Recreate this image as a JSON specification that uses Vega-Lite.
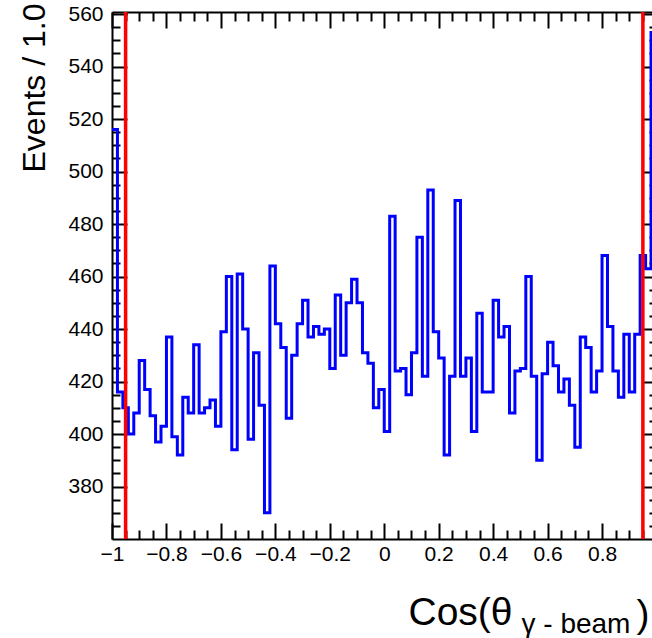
{
  "$schema": "https://vega.github.io/schema/vega-lite/v6.json",
  "autosize": "none",
  "padding": {"left": 112, "top": 12, "right": 0, "bottom": 99},
  "width": 540,
  "height": 527,
  "background": "white",
  "config": {
    "view": {"stroke": null},
    "axis": {"grid": false, "domainColor": "black", "tickColor": "black", "labelColor": "black", "titleColor": "black", "labelFont": "Liberation Sans", "titleFont": "Liberation Sans", "labelFontSize": 20, "titleFontWeight": "normal", "labelFlush": false, "labelOverlap": false}
  },
  "data": {"values": [
    {"x": -1.00, "n": 516}, {"x": -0.98, "n": 416}, {"x": -0.96, "n": 410}, {"x": -0.94, "n": 400}, {"x": -0.92, "n": 408},
    {"x": -0.90, "n": 428}, {"x": -0.88, "n": 417}, {"x": -0.86, "n": 407}, {"x": -0.84, "n": 397}, {"x": -0.82, "n": 403},
    {"x": -0.80, "n": 437}, {"x": -0.78, "n": 399}, {"x": -0.76, "n": 392}, {"x": -0.74, "n": 414}, {"x": -0.72, "n": 408},
    {"x": -0.70, "n": 434}, {"x": -0.68, "n": 408}, {"x": -0.66, "n": 410}, {"x": -0.64, "n": 413}, {"x": -0.62, "n": 403},
    {"x": -0.60, "n": 439}, {"x": -0.58, "n": 460}, {"x": -0.56, "n": 394}, {"x": -0.54, "n": 461}, {"x": -0.52, "n": 440},
    {"x": -0.50, "n": 398}, {"x": -0.48, "n": 431}, {"x": -0.46, "n": 411}, {"x": -0.44, "n": 370}, {"x": -0.42, "n": 464},
    {"x": -0.40, "n": 442}, {"x": -0.38, "n": 433}, {"x": -0.36, "n": 406}, {"x": -0.34, "n": 430}, {"x": -0.32, "n": 442},
    {"x": -0.30, "n": 451}, {"x": -0.28, "n": 437}, {"x": -0.26, "n": 441}, {"x": -0.24, "n": 438}, {"x": -0.22, "n": 440},
    {"x": -0.20, "n": 425}, {"x": -0.18, "n": 453}, {"x": -0.16, "n": 430}, {"x": -0.14, "n": 450}, {"x": -0.12, "n": 459},
    {"x": -0.10, "n": 450}, {"x": -0.08, "n": 431}, {"x": -0.06, "n": 427}, {"x": -0.04, "n": 410}, {"x": -0.02, "n": 417},
    {"x": 0.00, "n": 401}, {"x": 0.02, "n": 483}, {"x": 0.04, "n": 424}, {"x": 0.06, "n": 425}, {"x": 0.08, "n": 415},
    {"x": 0.10, "n": 431}, {"x": 0.12, "n": 475}, {"x": 0.14, "n": 422}, {"x": 0.16, "n": 493}, {"x": 0.18, "n": 439},
    {"x": 0.20, "n": 429}, {"x": 0.22, "n": 392}, {"x": 0.24, "n": 422}, {"x": 0.26, "n": 489}, {"x": 0.28, "n": 422},
    {"x": 0.30, "n": 429}, {"x": 0.32, "n": 401}, {"x": 0.34, "n": 446}, {"x": 0.36, "n": 416}, {"x": 0.38, "n": 416},
    {"x": 0.40, "n": 451}, {"x": 0.42, "n": 437}, {"x": 0.44, "n": 441}, {"x": 0.46, "n": 408}, {"x": 0.48, "n": 424},
    {"x": 0.50, "n": 425}, {"x": 0.52, "n": 460}, {"x": 0.54, "n": 422}, {"x": 0.56, "n": 390}, {"x": 0.58, "n": 423},
    {"x": 0.60, "n": 435}, {"x": 0.62, "n": 426}, {"x": 0.64, "n": 416}, {"x": 0.66, "n": 421}, {"x": 0.68, "n": 411},
    {"x": 0.70, "n": 395}, {"x": 0.72, "n": 437}, {"x": 0.74, "n": 433}, {"x": 0.76, "n": 416}, {"x": 0.78, "n": 424},
    {"x": 0.80, "n": 468}, {"x": 0.82, "n": 441}, {"x": 0.84, "n": 424}, {"x": 0.86, "n": 414}, {"x": 0.88, "n": 438},
    {"x": 0.90, "n": 416}, {"x": 0.92, "n": 438}, {"x": 0.94, "n": 468}, {"x": 0.96, "n": 463}, {"x": 0.98, "n": 553},
    {"x": 1.00, "n": 553}
  ]},
  "resolve": {"axis": {"x": "independent", "y": "independent"}},
  "layer": [
    {
      "mark": {"type": "line", "interpolate": "step-after", "color": "#0000ff", "strokeWidth": 3, "clip": true},
      "encoding": {
        "x": {"field": "x", "type": "quantitative", "scale": {"domain": [-1, 0.9835], "nice": false, "zero": false},
          "axis": {"orient": "bottom", "values": [-1, -0.8, -0.6, -0.4, -0.2, 0, 0.2, 0.4, 0.6, 0.8], "format": "~g", "tickSize": -16, "tickWidth": 2, "domain": true, "domainWidth": 2, "labelPadding": 20, "labelDx": -8, "labelAlign": "center", "labelBaseline": "top", "labelFontSize": 21,
            "title": "Cos(θ", "titleX": 296, "titleY": 85, "titleAlign": "left", "titleBaseline": "alphabetic", "titleFontSize": 39, "titleAnchor": null}},
        "y": {"field": "n", "type": "quantitative", "scale": {"domain": [360, 560.8], "nice": false, "zero": false},
          "axis": {"orient": "left", "values": [380, 400, 420, 440, 460, 480, 500, 520, 540, 560], "format": "d", "tickSize": -15, "tickWidth": 2, "domain": true, "domainWidth": 2, "labelPadding": 24, "labelBaseline": "middle", "labelFontSize": 21,
            "title": "Events / 1.0", "titleX": -68, "titleY": -9, "titleAngle": -90, "titleAlign": "right", "titleBaseline": "alphabetic", "titleFont": "Liberation Sans", "titleFontSize": 32, "titleAnchor": null}}
      }
    },
    {
      "mark": {"type": "line", "opacity": 0},
      "encoding": {
        "x": {"field": "x", "type": "quantitative",
          "axis": {"orient": "bottom", "values": [-0.95, -0.9, -0.85, -0.75, -0.7, -0.65, -0.55, -0.5, -0.45, -0.35, -0.3, -0.25, -0.15, -0.1, -0.05, 0.05, 0.1, 0.15, 0.25, 0.3, 0.35, 0.45, 0.5, 0.55, 0.65, 0.7, 0.75, 0.85, 0.9, 0.95], "labels": false, "tickSize": -9, "tickWidth": 2, "domain": false,
            "title": ")", "titleX": 524, "titleY": 87, "titleAlign": "left", "titleBaseline": "alphabetic", "titleFontSize": 39, "titleAnchor": null}},
        "y": {"field": "n", "type": "quantitative",
          "axis": {"orient": "left", "values": [365, 370, 375, 385, 390, 395, 405, 410, 415, 425, 430, 435, 445, 450, 455, 465, 470, 475, 485, 490, 495, 505, 510, 515, 525, 530, 535, 545, 550, 555], "labels": false, "tickSize": -8, "tickWidth": 2, "domain": false, "title": null}}
      }
    },
    {
      "mark": {"type": "line", "opacity": 0},
      "encoding": {
        "x": {"field": "x", "type": "quantitative",
          "axis": {"orient": "top", "values": [-1, -0.8, -0.6, -0.4, -0.2, 0, 0.2, 0.4, 0.6, 0.8], "labels": false, "tickSize": -16, "tickWidth": 2, "domain": true, "domainWidth": 2,
            "title": "γ - beam", "titleX": 409, "titleY": 620, "titleAlign": "left", "titleBaseline": "alphabetic", "titleFontSize": 28, "titleAngle": 0, "titleAnchor": null}},
        "y": {"field": "n", "type": "quantitative",
          "axis": {"orient": "right", "offset": 5, "values": [380, 400, 420, 440, 460, 480, 500, 520, 540, 560], "labels": false, "tickSize": -15, "tickWidth": 2, "domain": false, "title": null}}
      }
    },
    {
      "mark": {"type": "line", "opacity": 0},
      "encoding": {
        "x": {"field": "x", "type": "quantitative",
          "axis": {"orient": "top", "values": [-0.95, -0.9, -0.85, -0.75, -0.7, -0.65, -0.55, -0.5, -0.45, -0.35, -0.3, -0.25, -0.15, -0.1, -0.05, 0.05, 0.1, 0.15, 0.25, 0.3, 0.35, 0.45, 0.5, 0.55, 0.65, 0.7, 0.75, 0.85, 0.9, 0.95], "labels": false, "tickSize": -9, "tickWidth": 2, "domain": false, "title": null}},
        "y": {"field": "n", "type": "quantitative",
          "axis": {"orient": "right", "offset": 5, "values": [365, 370, 375, 385, 390, 395, 405, 410, 415, 425, 430, 435, 445, 450, 455, 465, 470, 475, 485, 490, 495, 505, 510, 515, 525, 530, 535, 545, 550, 555], "labels": false, "tickSize": -8, "tickWidth": 2, "domain": false, "title": null}}
      }
    },
    {
      "data": {"values": [{"cut": -0.95}, {"cut": 0.95}]},
      "mark": {"type": "rule", "color": "#ff0000", "strokeWidth": 3.5},
      "encoding": {
        "x": {"field": "cut", "type": "quantitative", "axis": null}
      }
    }
  ]
}
